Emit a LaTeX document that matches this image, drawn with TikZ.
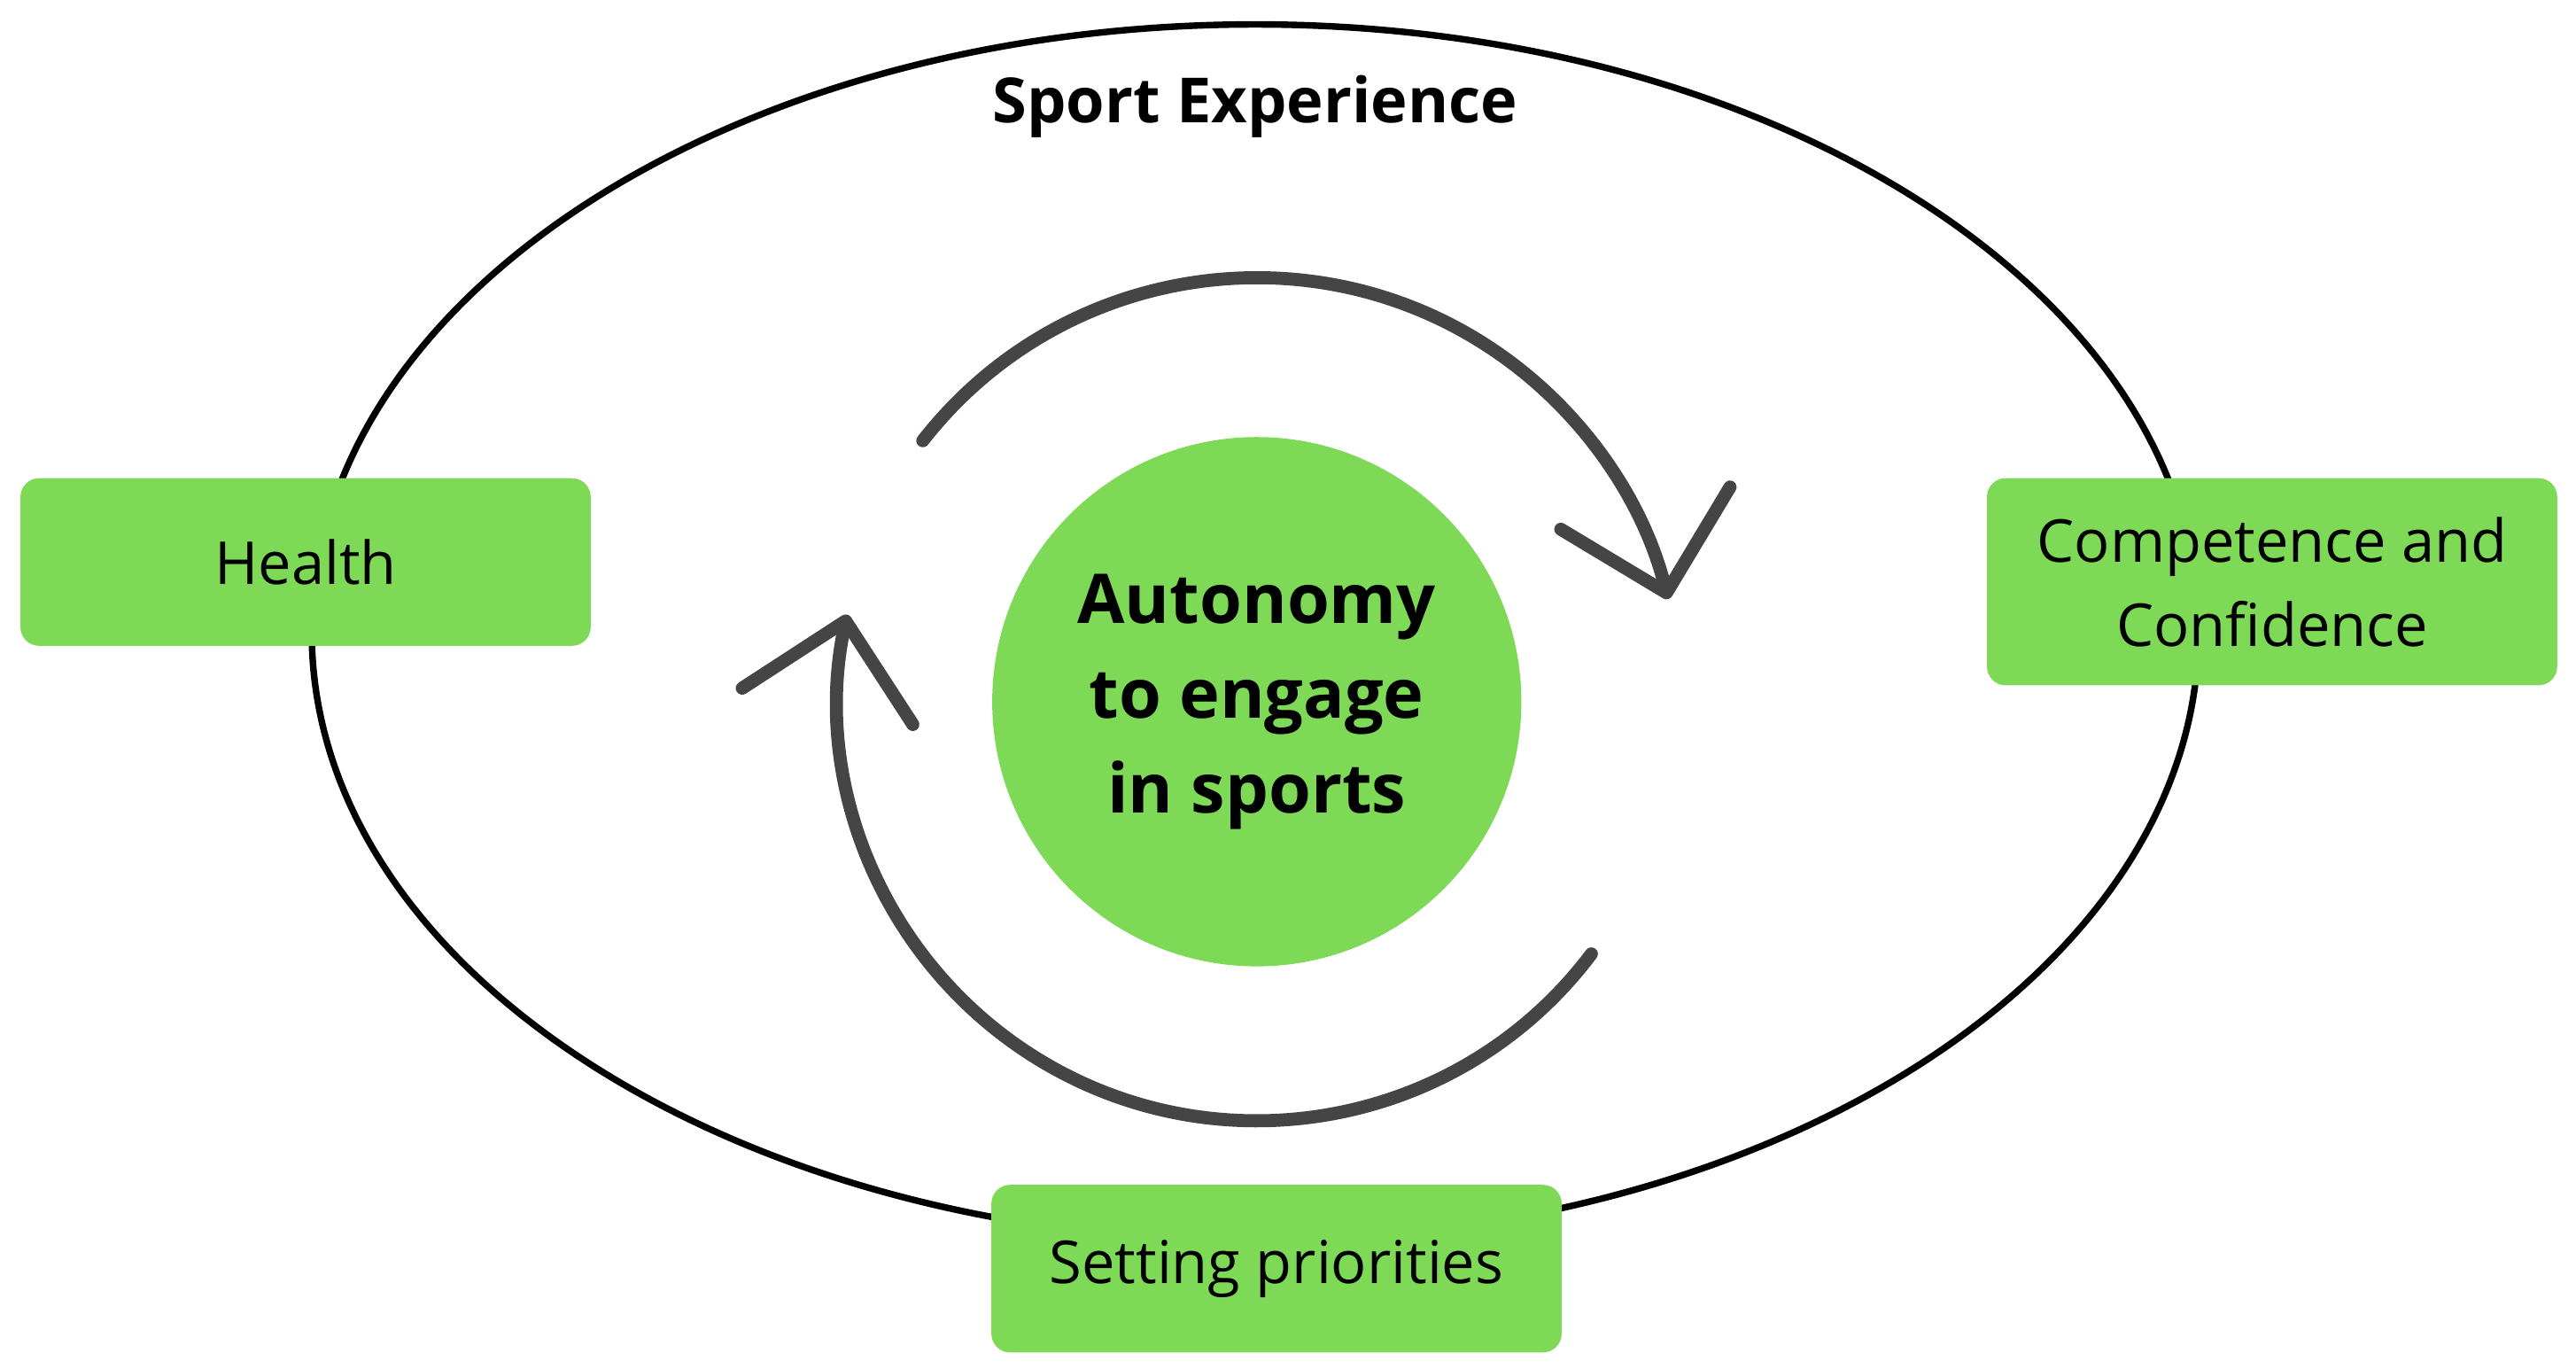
\documentclass[tikz,border=0pt]{standalone}
\usepackage{fontspec}
\setmainfont{Open Sans}
\usepackage{xcolor}
\usetikzlibrary{arrows.meta,shapes.geometric}
\definecolor{leaf}{HTML}{7ED957}
\definecolor{loopgray}{HTML}{454545}
\begin{document}
\begin{tikzpicture}[x=0.018546cm,y=0.018546cm]
            \tikzset{Box/.style={%
                    shape=rectangle,%
                    fill=leaf,%
                    rounded corners=6pt,%
                    minimum width=183.1pt,%
                    inner sep=0pt,%
                    align=center,%
                    font=\fontsize{19}{27}\selectfont,%
                },
                Loop/.style={%
                    draw=loopgray,%
                    line width=4.2pt,%
                    line cap=round,%
                    -{Straight Barb[length=28pt,width=56pt,line width=4.2pt,round]},%
                }}
                \useasboundingbox (0,0) rectangle (1568,-833);

                \node[draw,line width=2.1pt,ellipse,minimum width=605.8pt,minimum height=390.5pt] (E) at (764,-385) {};
                \node[font=\bfseries\fontsize{20}{24}\selectfont] (T) at (764,-65) {Sport Experience};

                \node[Box,minimum height=53.8pt] (H) at (186,-342) {Health};
                \node[Box,minimum height=66.5pt] (C) at (1383,-354) {Competence and\\Confidence};
                \node[Box,minimum height=53.8pt] (S) at (777,-772) {Setting priorities};

                \node[circle,fill=leaf,minimum size=169.9pt,align=center,
                      font=\bfseries\fontsize{22}{30.5}\selectfont] (A) at (765,-427) {Autonomy\\to engage\\in sports};

                \draw[Loop] (A.center) ++(142:258) arc[start angle=142,end angle=14,radius=258];
                \draw[Loop] (A.center) ++(-37:255) arc[start angle=-37,end angle=-192,radius=255];
        \end{tikzpicture}
\end{document}
